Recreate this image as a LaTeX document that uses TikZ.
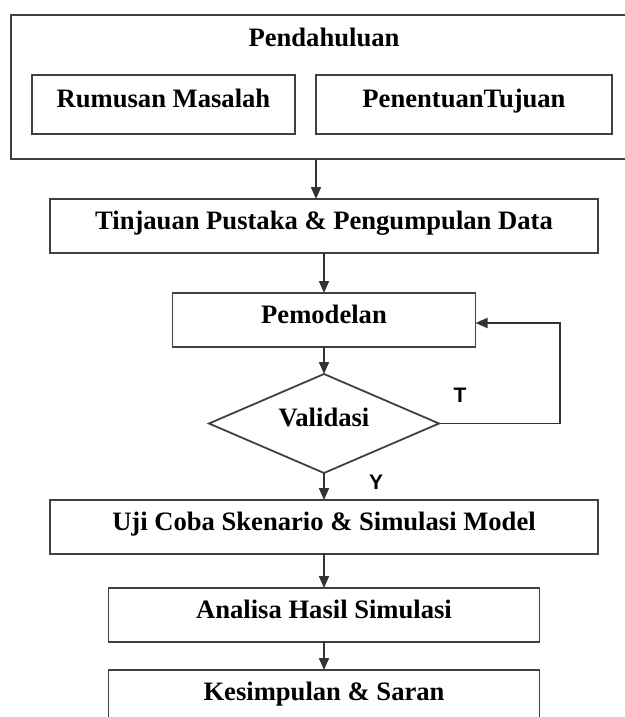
\documentclass[tikz,border=0pt]{standalone}
\usepackage{fontspec}
\setmainfont{Liberation Serif}
\newfontfamily\labelfont{Liberation Sans}
\usetikzlibrary{positioning}
\usetikzlibrary{shapes.geometric}
\usetikzlibrary{arrows.meta}

\begin{document}
\begin{tikzpicture}[x=0.5pt, y=-0.5pt,
                          outernode/.style={rectangle, draw=black!75, line width=0.9pt, inner sep=0pt, outer sep=0pt, minimum width=313pt, minimum height=72pt},
                          squarednode/.style={rectangle, draw=black!75, line width=0.9pt, inner sep=0pt, outer sep=0pt, minimum height=27pt, text height=9pt, text depth=6pt, font=\fontsize{13.3}{16}\selectfont\bfseries},
                          diamondnode/.style={diamond, aspect=2.3, draw=black!75, line width=0.9pt, inner sep=0pt, outer sep=0pt, minimum width=115pt, minimum height=49.5pt, text height=9pt, text depth=6pt, font=\fontsize{13.3}{16}\selectfont\bfseries},
                          titlenode/.style={inner sep=0pt, anchor=base, font=\fontsize{13.3}{16}\selectfont\bfseries},
                          labelnode/.style={inner sep=0pt, font=\labelfont\fontsize{10.5}{12}\selectfont\bfseries},
                          flowline/.style={draw=black!80, line width=0.9pt, -{Triangle[length=6pt, width=5pt]}},
                      ]
                      \useasboundingbox (0,0) rectangle (625,717);
                      \clip (0,0) rectangle (625,717);

                      %Nodes
                      \node[outernode]       (pendahuluan)   at (324,87)       {};
                      \node[titlenode]       (pendtitle)     at (324,47)       {Pendahuluan};
                      \node[squarednode, minimum width=131.5pt, minimum height=29.5pt] (rumusan)   at (163.5,104.5) {Rumusan Masalah};
                      \node[squarednode, minimum width=148pt, minimum height=29.5pt]   (tujuan)    at (464,104.5)   {PenentuanTujuan};
                      \node[squarednode, minimum width=274pt]   (tinjauan)   [below=20pt of pendahuluan]   {Tinjauan Pustaka \& Pengumpulan Data};
                      \node[squarednode, minimum width=151.5pt] (pemodelan)  [below=20pt of tinjauan]      {Pemodelan};
                      \node[diamondnode]                        (validasi)   [below=13.5pt of pemodelan]   {Validasi};
                      \node[squarednode, minimum width=274pt]   (uji)        [below=13.5pt of validasi]    {Uji Coba Skenario \& Simulasi Model};
                      \node[squarednode, minimum width=215.5pt] (analisa)    [below=17pt of uji]           {Analisa Hasil Simulasi};
                      \node[squarednode, minimum width=215.5pt] (kesimpulan) [below=14pt of analisa]       {Kesimpulan \& Saran};
                      \node[labelnode]       (tidak)   at (460,395)   {T};
                      \node[labelnode]       (ya)      at (376,482)   {Y};

                      %Lines
                      \draw[flowline] ([xshift=-4pt]pendahuluan.south) -- ([xshift=-4pt]tinjauan.north);
                      \draw[flowline] (tinjauan.south) -- (pemodelan.north);
                      \draw[flowline] (pemodelan.south) -- (validasi.north);
                      \draw[flowline] (validasi.south) -- (uji.north);
                      \draw[flowline] (uji.south) -- (analisa.north);
                      \draw[flowline] (analisa.south) -- (kesimpulan.north);
                      \draw[flowline] (validasi.east) -- ++(121,0) |- ([yshift=-1.5pt]pemodelan.east);
                  \end{tikzpicture}
\end{document}
